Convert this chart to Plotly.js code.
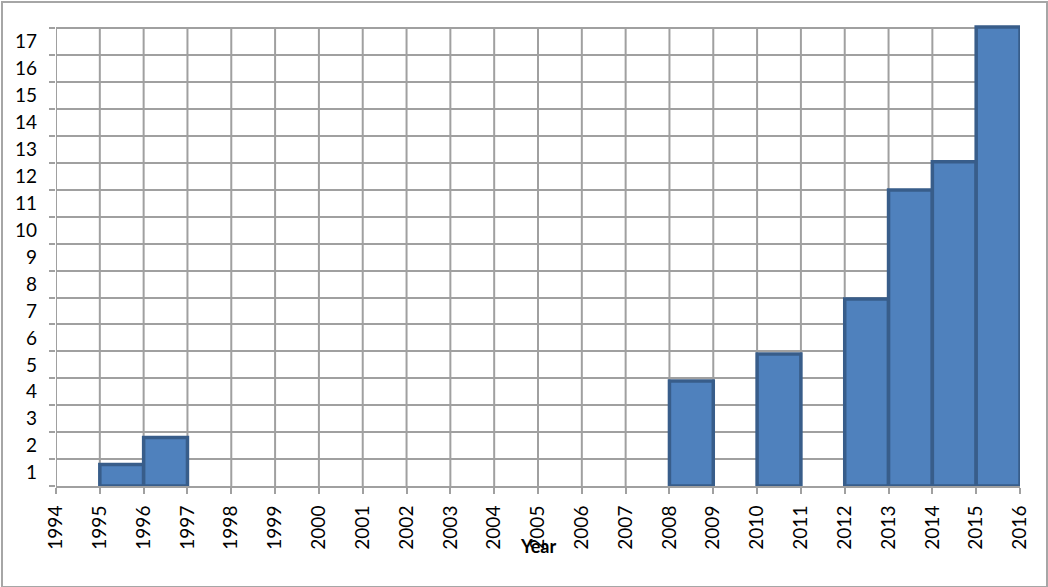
<!DOCTYPE html>
<html>
<head>
<meta charset="utf-8">
<script src="https://cdn.plot.ly/plotly-3.0.1.min.js"></script>
<style>
  body { margin: 0; background: #fff; }
  #wrap { position: relative; width: 1048px; height: 587px; }
  #chart { width: 1048px; height: 587px; }
  #frame { position: absolute; left: 1px; top: 1px; width: 1043px; height: 583px;
           border: 2px solid #a6a6a6; pointer-events: none; }
</style>
</head>
<body>
<div id="wrap">
  <div id="chart"></div>
  <div id="frame"></div>
</div>
<script>
// data
const years = [1995, 1996, 2008, 2010, 2012, 2013, 2014, 2015];
const counts = [0.8, 1.8, 3.9, 4.9, 6.95, 11, 12.05, 17.05];

const yearTicks = [1994, 1995, 1996, 1997, 1998, 1999, 2000, 2001, 2002, 2003, 2004,
                   2005, 2006, 2007, 2008, 2009, 2010, 2011, 2012, 2013, 2014, 2015, 2016];
const gridLines = [0, 1, 2, 3, 4, 5, 6, 7, 8, 9, 10, 11, 12, 13, 14, 15, 16, 17];
const yLabels = [1, 2, 3, 4, 5, 6, 7, 8, 9, 10, 11, 12, 13, 14, 15, 16, 17];

const fontFam = 'Lato, "Open Sans", sans-serif';
const gridCol = '#a0a0a0';
const yTop = 17;
const yRange = [0, 17.2]; // a little headroom so the tallest bar's outline is not cut

// each bar covers one whole year, [year, year+1]
let bars = {
    type: 'bar',
    x: years.map(y => y + 0.5),
    y: counts,
    width: 1,
    marker: { color: '#4f81bd', line: { color: '#385d8a', width: 3.5 } },
    hoverinfo: 'x+y'
};

// invisible trace so the label axis gets drawn
let labelHelper = {
    type: 'scatter',
    x: [1994],
    y: [0],
    yaxis: 'y2',
    mode: 'markers',
    marker: { opacity: 0 },
    hoverinfo: 'skip'
};

// vertical grid lines stop at the top grid line
let vGrid = yearTicks.map(yr => ({
    type: 'line', xref: 'x', yref: 'y',
    x0: yr, x1: yr, y0: 0, y1: yTop,
    layer: 'below',
    line: { color: gridCol, width: 2 }
}));

let layout = {
    width: 1048,
    height: 587,
    margin: { l: 56, r: 28, t: 23, b: 101 },
    paper_bgcolor: '#fff',
    plot_bgcolor: '#fff',
    showlegend: false,
    font: { family: fontFam, size: 19, color: '#000' },
    xaxis: {
        range: [1994, 2016],
        tickvals: yearTicks,
        ticktext: yearTicks.map(String),
        tickangle: -90,
        ticks: 'outside',
        ticklen: 6,
        tickcolor: gridCol,
        tickwidth: 2,
        showgrid: false,
        showline: true,
        linecolor: gridCol,
        linewidth: 2,
        zeroline: false,
        ticklabelstandoff: 4,
        tickfont: { family: fontFam, size: 19, color: '#000' }
    },
    // grid lines sit on the integers
    yaxis: {
        range: yRange,
        tickvals: gridLines,
        showticklabels: false,
        ticks: 'outside',
        ticklen: 6,
        tickcolor: gridCol,
        tickwidth: 2,
        showgrid: true,
        gridcolor: gridCol,
        gridwidth: 2,
        showline: false,
        zeroline: false
    },
    // labels sit between the grid lines
    yaxis2: {
        overlaying: 'y',
        side: 'left',
        range: yRange,
        tickvals: yLabels.map(v => v - 0.5),
        ticktext: yLabels.map(String),
        ticks: '',
        showgrid: false,
        zeroline: false,
        showline: false,
        ticklabelstandoff: 18,
        tickfont: { family: fontFam, size: 19, color: '#000' }
    },
    shapes: vGrid,
    annotations: [{
        text: '<b>Year</b>',
        xref: 'paper', yref: 'paper',
        x: 0.5, y: -0.13,
        xanchor: 'center', yanchor: 'middle',
        showarrow: false,
        font: { family: fontFam, size: 18, color: '#000' }
    }]
};

Plotly.newPlot('chart', [bars, labelHelper], layout, { staticPlot: true });
</script>
</body>
</html>
